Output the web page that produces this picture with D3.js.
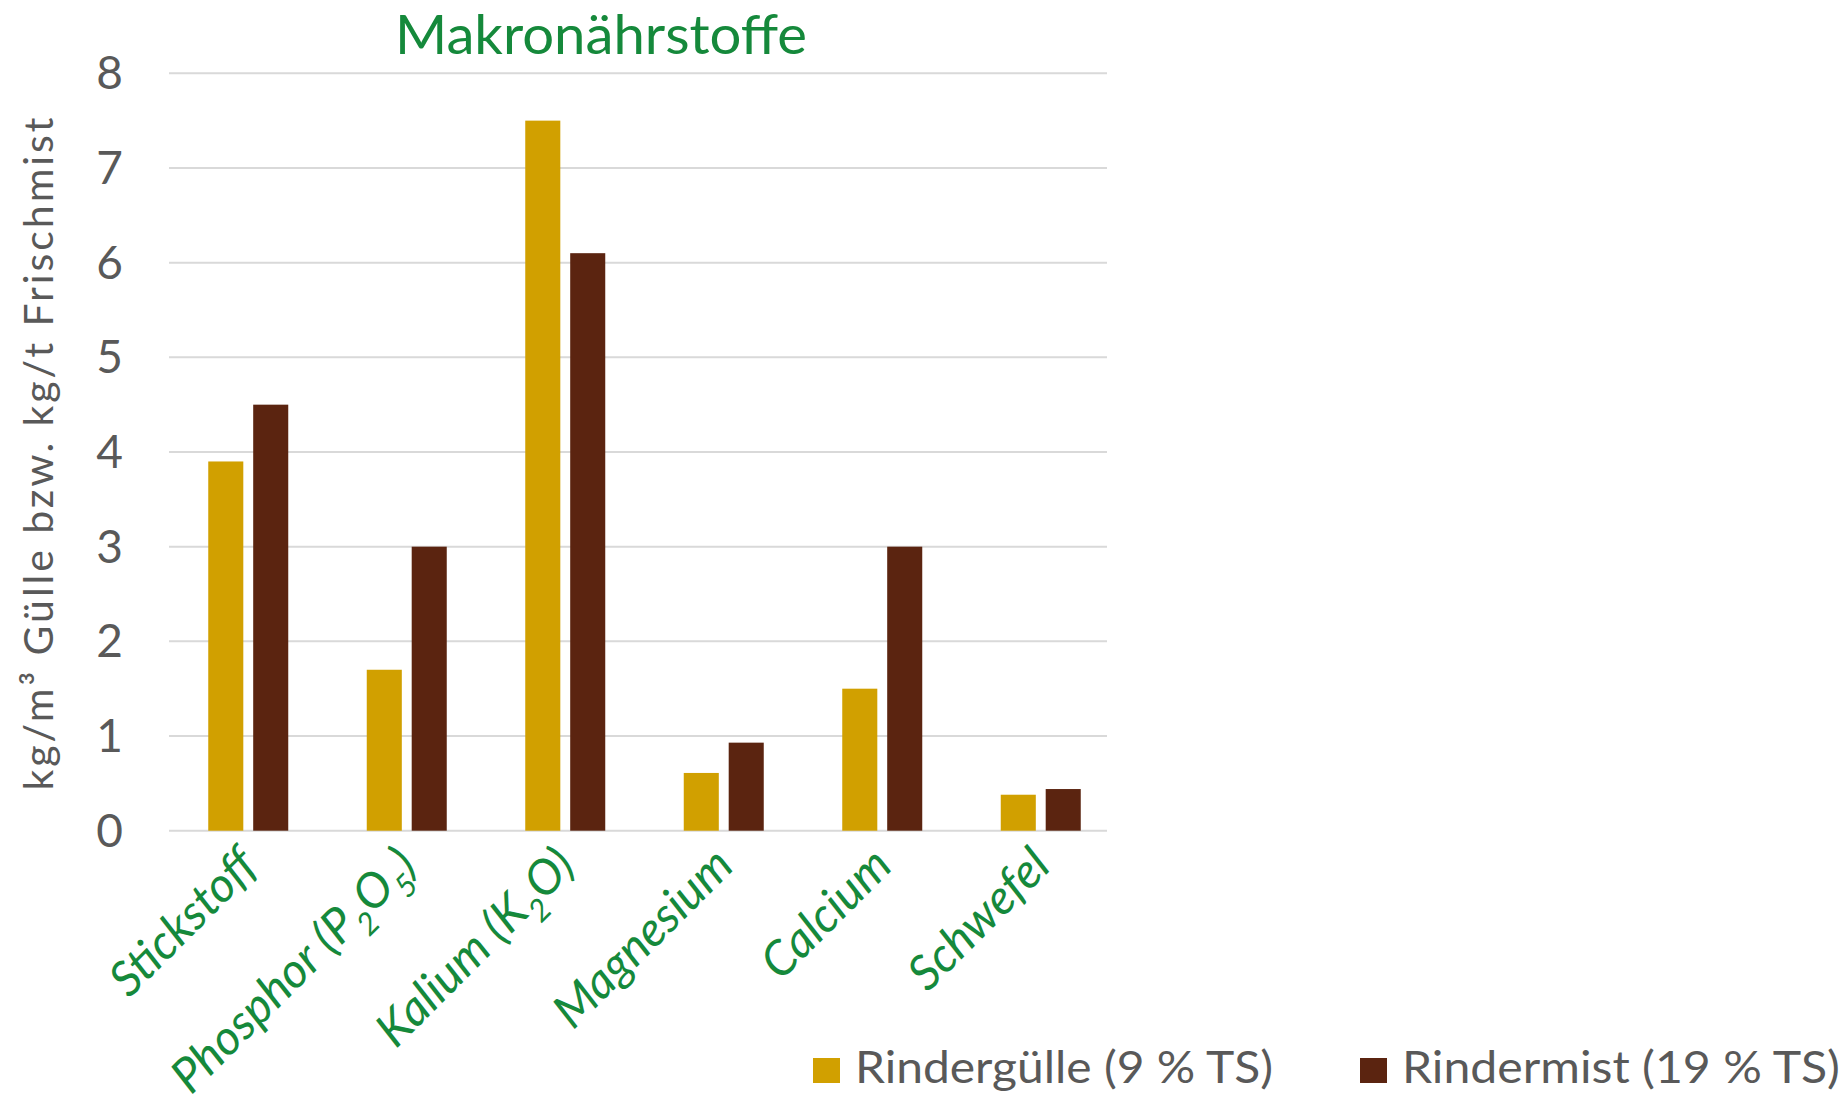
<!DOCTYPE html>
<html>
<head>
<meta charset="utf-8">
<script src="https://cdnjs.cloudflare.com/ajax/libs/d3/7.8.5/d3.min.js"></script>
<style>
  body { margin: 0; background: #fff; }
  svg { display: block; font-family: Lato, "Open Sans", sans-serif; }
</style>
</head>
<body>
<svg id="chart"></svg>
<script>
var width = 1846,
    height = 1111;

// data
var categories = ["Stickstoff", "Phosphor (P2O5)", "Kalium (K2O)", "Magnesium", "Calcium", "Schwefel"];
var seriesNames = ["Rindergülle (9 % TS)", "Rindermist (19 % TS)"];
var guelle = [3.9, 1.7, 7.5, 0.61, 1.5, 0.38];
var mist = [4.5, 3.0, 6.1, 0.93, 3.0, 0.44];
var yTicks = [0, 1, 2, 3, 4, 5, 6, 7, 8];
var colors = ["#d1a000", "#5b2410"];

var green = "#15893b",
    grey = "#595959";

var svg = d3.select("#chart")
    .attr("width", width)
    .attr("height", height);

var y = d3.scaleLinear()
    .domain([0, 8])
    .range([830.7, 73.3]);

var x = d3.scaleBand()
    .domain(categories)
    .range([169, 1120]);

var inner = d3.scaleBand()
    .domain([0, 1])
    .range([x.bandwidth() / 2 - 40, x.bandwidth() / 2 + 40])
    .paddingInner(0.22);

// gridlines
svg.append("g")
    .selectAll("line")
    .data(yTicks)
    .enter().append("line")
    .attr("x1", 169)
    .attr("x2", 1107)
    .attr("y1", function (d) { return y(d); })
    .attr("y2", function (d) { return y(d); })
    .attr("stroke", "#d9d9d9")
    .attr("stroke-width", 2);

// y tick labels
svg.append("g")
    .selectAll("text")
    .data(yTicks)
    .enter().append("text")
    .attr("x", 123)
    .attr("y", function (d) { return y(d); })
    .attr("dy", "0.35em")
    .attr("text-anchor", "end")
    .attr("fill", grey)
    .style("font-size", "46px")
    .text(function (d) { return d; });

// bars
var groups = svg.append("g")
    .selectAll("g")
    .data(categories)
    .enter().append("g")
    .attr("transform", function (d) { return "translate(" + x(d) + ",0)"; });

groups.selectAll("rect")
    .data(function (d, i) { return [guelle[i], mist[i]]; })
    .enter().append("rect")
    .attr("x", function (d, j) { return inner(j); })
    .attr("width", inner.bandwidth())
    .attr("y", function (d) { return y(d); })
    .attr("height", function (d) { return y(0) - y(d); })
    .attr("fill", function (d, j) { return colors[j]; });

// category labels, rotated, digits as subscripts
var labels = svg.append("g")
    .selectAll("text")
    .data(categories)
    .enter().append("text")
    .attr("transform", function (d) {
        return "translate(" + (x(d) + x.bandwidth() / 2 + 12) + ",868) rotate(-45)";
    })
    .attr("text-anchor", "end")
    .attr("fill", green)
    .style("font-size", "48px")
    .style("font-style", "italic");

labels.each(function (d) {
    var t = d3.select(this);
    var parts = d.match(/\d+|\D+/g);
    var shifted = false;
    parts.forEach(function (p) {
        var isSub = /^\d+$/.test(p);
        var span = t.append("tspan").text(p);
        if (isSub) {
            span.style("font-size", "31px").attr("dy", 14);
            shifted = true;
        } else if (shifted) {
            span.attr("dy", -14);
            shifted = false;
        }
    });
});

// title
svg.append("text")
    .attr("x", 601)
    .attr("y", 54)
    .attr("text-anchor", "middle")
    .attr("fill", green)
    .style("font-size", "54px")
    .attr("textLength", 412)
    .attr("lengthAdjust", "spacingAndGlyphs")
    .text("Makronährstoffe");

// y axis title
svg.append("text")
    .attr("transform", "translate(53,454) rotate(-90)")
    .attr("text-anchor", "middle")
    .attr("fill", grey)
    .style("font-size", "41px")
    .attr("textLength", 673)
    .attr("lengthAdjust", "spacing")
    .text("kg/m³ Gülle bzw. kg/t Frischmist");

// legend
var legendX = [813, 1360];
var legendW = [418, 438];
var legend = svg.append("g")
    .selectAll("g")
    .data(seriesNames)
    .enter().append("g")
    .attr("transform", function (d, i) { return "translate(" + legendX[i] + ",0)"; });

legend.append("rect")
    .attr("x", 0)
    .attr("y", 1058)
    .attr("width", 27)
    .attr("height", 25)
    .attr("fill", function (d, i) { return colors[i]; });

legend.append("text")
    .attr("x", 42)
    .attr("y", 1083)
    .attr("fill", grey)
    .style("font-size", "45px")
    .attr("textLength", function (d, i) { return legendW[i]; })
    .attr("lengthAdjust", "spacingAndGlyphs")
    .text(function (d) { return d; });
</script>
</body>
</html>
